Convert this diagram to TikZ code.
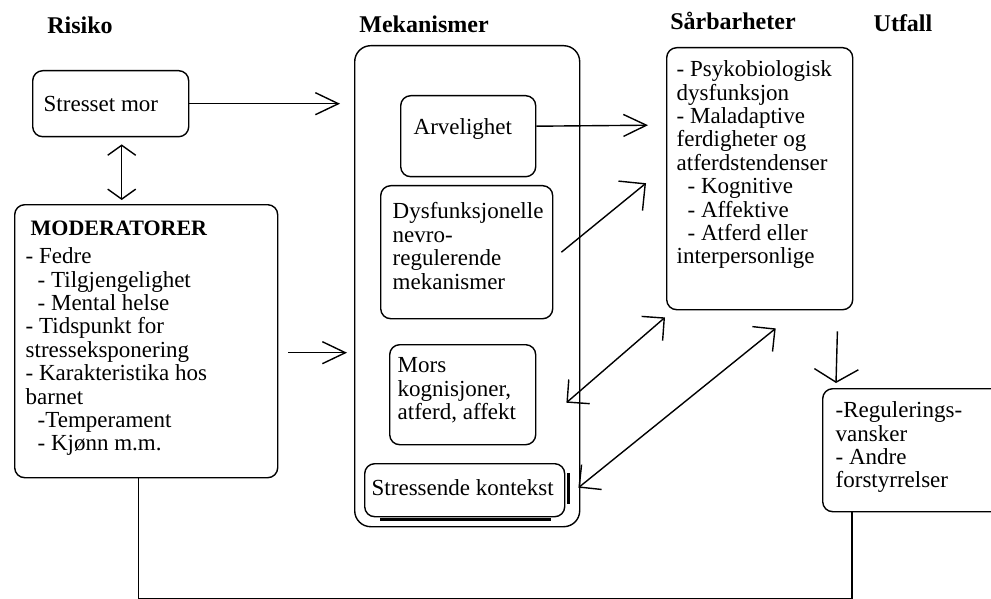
\documentclass[tikz,border=0pt]{standalone}
\usepackage{fontspec}
\setmainfont{Liberation Serif}
\usetikzlibrary{arrows.meta}

\begin{document}
\begin{tikzpicture}[x=0.5pt, y=-0.5pt, line width=0.7pt,
  box/.style={draw, rounded corners=5pt, anchor=north west, inner sep=0pt},
  txt/.style={anchor=north west, inner sep=0pt, align=left, font=\fontsize{11.5}{11.7}\selectfont},
  head/.style={font=\fontsize{12}{14}\selectfont\bfseries},
  arr/.style={-{Straight Barb[length=11.5pt,width=11pt]}},
  dbl/.style={{Straight Barb[length=5pt,width=14pt]}-{Straight Barb[length=5pt,width=14pt]}},
  diag/.style={-{Straight Barb[length=9.5pt,width=19pt]}},
  diagdbl/.style={{Straight Barb[length=8pt,width=16pt]}-{Straight Barb[length=8pt,width=16pt]}},
  down/.style={-{Straight Barb[length=6.5pt,width=22pt]}}]
  \clip (0,0) rectangle (991,599);

  % column heads
  \node[head] (hrisiko) at (80,25) {Risiko};
  \node[head] (hmek) at (424,24) {Mekanismer};
  \node[head] (hsarb) at (733,21) {Sårbarheter};
  \node[head] (hutfall) at (903,23) {Utfall};

  % risiko
  \node[box, minimum width=78pt, minimum height=33pt] (stress) at (32,70) {};
  \node[txt] (stresstxt) at (43,96) {Stresset mor};

  \node[box, minimum width=131.5pt, minimum height=136.5pt] (moder) at (14,204) {};
  \node[txt, font=\fontsize{11}{12}\selectfont\bfseries] (moderhead) at (30,220) {MODERATORER};
  \node[txt] (modertxt) at (25,247) {- Fedre\\
    \hspace*{6pt}- Tilgjengelighet\\
    \hspace*{6pt}- Mental helse\\
    - Tidspunkt for\\
    stresseksponering\\
    - Karakteristika hos\\
    barnet\\
    \hspace*{6pt}-Temperament\\
    \hspace*{6pt}- Kjønn m.m.};

  % mekanismer
  \node[box, rounded corners=8pt, minimum width=112.5pt, minimum height=240.5pt] (mek) at (354,45) {};
  \node[box, minimum width=67.5pt, minimum height=40.5pt] (arv) at (400,95) {};
  \node[txt] (arvtxt) at (413,118) {Arvelighet};
  \node[box, minimum width=86pt, minimum height=66.5pt] (dys) at (380,185) {};
  \node[txt] (dystxt) at (392,202) {Dysfunksjonelle\\nevro-\\regulerende\\mekanismer};
  \node[box, minimum width=73pt, minimum height=50pt] (mors) at (389,344) {};
  \node[txt] (morstxt) at (397,357) {Mors\\kognisjoner,\\atferd, affekt};
  \node[box, minimum width=100pt, minimum height=26.5pt] (stk) at (364,463) {};
  \node[txt] (stktxt) at (371,479) {Stressende kontekst};
  \draw[line width=1.6pt] ([xshift=8pt,yshift=-1pt]stk.south west) -- ([xshift=-7pt,yshift=-1pt]stk.south east);
  \draw[line width=1.6pt] ([xshift=1.5pt,yshift=-5pt]stk.north east) -- ([xshift=1.5pt,yshift=6.5pt]stk.south east);

  % saarbarheter
  \node[box, minimum width=93pt, minimum height=131pt] (sarb) at (666,47) {};
  \node[txt] (sarbtxt) at (676,60) {- Psykobiologisk\\
    dysfunksjon\\
    - Maladaptive\\
    ferdigheter og\\
    atferdstendenser\\
    \hspace*{5.5pt}- Kognitive\\
    \hspace*{5.5pt}- Affektive\\
    \hspace*{5.5pt}- Atferd eller\\
    interpersonlige};

  % utfall
  \node[box, minimum width=95pt, minimum height=61.5pt] (utf) at (822,388) {};
  \node[txt] (utftxt) at (835,401) {-Regulerings-\\vansker\\- Andre\\forstyrrelser};

  % arrows
  \draw[arr] (stress.east) -- ([xshift=-7pt,yshift=91.25pt]mek.west);
  \draw[dbl] ([xshift=5.5pt,yshift=-3.5pt]stress.south) -- ([xshift=-12.25pt,yshift=2pt]moder.north);
  \draw[arr] ([xshift=5pt,yshift=-5.75pt]moder.east) -- ([xshift=-3.5pt,yshift=-33.25pt]mek.west);
  \draw[arr] ([yshift=5pt]arv.east) -- ([xshift=-9pt,yshift=26.75pt]sarb.west);
  \draw[diag] ([xshift=4pt]dys.east) -- ([xshift=-10pt,yshift=-2.25pt]sarb.west);
  \draw[diagdbl] ([xshift=15pt,yshift=-4pt]mors.east) -- ([xshift=-0.5pt,yshift=-3.5pt]sarb.south west);
  \draw[diagdbl] ([xshift=6.5pt,yshift=1.25pt]stk.east) -- ([xshift=8pt,yshift=-9pt]sarb.south);
  \draw[down] ([xshift=-8pt,yshift=-10.5pt]sarb.south east) -- ([xshift=7pt,yshift=2.5pt]utf.north west);

  % feedback
  \draw ([xshift=-3.75pt]moder.south) -- ++(0,120) -| ([xshift=15pt]utf.south west);
\end{tikzpicture}
\end{document}
